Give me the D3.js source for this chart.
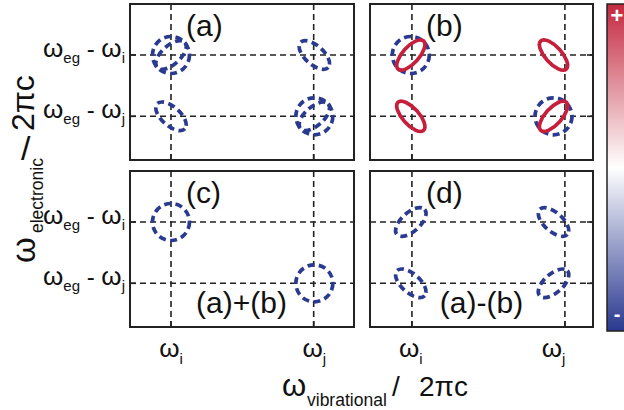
<!DOCTYPE html>
<html>
<head>
<meta charset="utf-8">
<script src="https://cdn.jsdelivr.net/npm/d3@7/dist/d3.min.js"></script>
<style>
  html, body { margin: 0; padding: 0; background: #fff; }
  svg { display: block; font-family: "Liberation Sans", Arial, Helvetica, sans-serif; }
</style>
</head>
<body>
<div id="chart"></div>
<script>
// Panel labels and the combination notes
const panelNames = ["(a)", "(b)", "(c)", "(d)"];
const panelNotes = ["", "", "(a)+(b)", "(a)-(b)"];

// Axis tick labels: [main symbol, subscript]
const vibTickLabels = [["ω", "i"], ["ω", "j"]];
const eleTickLabels = [["ω", "eg", " - ", "ω", "i"], ["ω", "eg", " - ", "ω", "j"]];

// Peak positions (normalised frequency units within each panel)
const vibPositions = [0.183, 0.823];
const elePositions = [0.673, 0.28];

// Dashed guide-line positions along the vibrational axis for the left and right columns
const leftGridVib = [0.183, 0.82];
const rightGridVib = [0.188, 0.874];

// Peaks: [vibrational index, electronic index, shape, sign]
// shape: "ring" = round peak, "diag" = tilted like "/", "anti" = tilted like "\"
const peaksA = [[0, 0, "ring", -1], [0, 0, "diag", -1], [1, 0, "anti", -1],
                [0, 1, "anti", -1], [1, 1, "ring", -1], [1, 1, "diag", -1]];
const peaksB = [[0, 0, "ring", -1], [1, 1, "ring", -1],
                [0, 0, "diag", 1], [1, 0, "anti", 1], [0, 1, "anti", 1], [1, 1, "diag", 1]];
const peaksC = [[0, 0, "ring", -1], [1, 1, "ring", -1]];
const peaksD = [[0, 0, "diag", -1], [1, 0, "anti", -1], [0, 1, "anti", -1], [1, 1, "diag", -1]];
const panelPeaks = [peaksA, peaksB, peaksC, peaksD];

// Colour bar end labels and domain
const colorbarDomain = [-1, 1];
const colorbarLabels = ["+", "-"];

// ---------------------------------------------------------------
const W = 624, H = 410;
const RED = "#c61f3b", BLUE = "#2a3a90";
const colorScale = d3.scaleLinear()
  .domain([colorbarDomain[0], 0, colorbarDomain[1]])
  .range(["#29388f", "#ffffff", "#c3283e"])
  .interpolate(d3.interpolateRgb);

const svg = d3.select("#chart").append("svg")
  .attr("width", W).attr("height", H);

const frames = [
  { x0: 130, x1: 354, y0: 4,   y1: 160, grid: leftGridVib,  side: "left"  },
  { x0: 370, x1: 593, y0: 4,   y1: 160, grid: rightGridVib, side: "right" },
  { x0: 130, x1: 354, y0: 171, y1: 327, grid: leftGridVib,  side: "left"  },
  { x0: 370, x1: 593, y0: 171, y1: 327, grid: rightGridVib, side: "right" }
];

const shapes = {
  ring: { a: 18.5, b: 18.5, angle: 0 },
  diagBlue: { a: 18.7, b: 9.4, angle: 42 },
  diagRed: { a: 19, b: 8.2, angle: 48 }
};

frames.forEach((f, pi) => {
  const x = d3.scaleLinear().domain([0, 1]).range([f.x0, f.x1]);
  const y = d3.scaleLinear().domain([0, 1]).range([f.y1, f.y0]);
  const g = svg.append("g");

  // dashed guide lines
  g.selectAll("line.gv").data(f.grid).join("line")
    .attr("x1", d => x(d)).attr("x2", d => x(d))
    .attr("y1", f.y0).attr("y2", f.y1)
    .attr("stroke", "#222").attr("stroke-width", 1.6)
    .attr("stroke-dasharray", "6,4");
  g.selectAll("line.gh").data(elePositions).join("line")
    .attr("x1", f.x0).attr("x2", f.x1)
    .attr("y1", d => y(d)).attr("y2", d => y(d))
    .attr("stroke", "#222").attr("stroke-width", 1.6)
    .attr("stroke-dasharray", "6,4");

  // inward ticks
  g.selectAll("line.tb").data(f.grid).join("line")
    .attr("x1", d => x(d)).attr("x2", d => x(d))
    .attr("y1", f.y1).attr("y2", f.y1 - 6)
    .attr("stroke", "#222").attr("stroke-width", 1.6);
  const sx = f.side === "left" ? f.x0 : f.x1;
  const sd = f.side === "left" ? 6 : -6;
  g.selectAll("line.ts").data(elePositions).join("line")
    .attr("x1", sx).attr("x2", sx + sd)
    .attr("y1", d => y(d)).attr("y2", d => y(d))
    .attr("stroke", "#222").attr("stroke-width", 1.6);

  // peaks: negative peaks dashed blue, positive peaks solid red (drawn on top)
  const peaks = panelPeaks[pi].slice().sort((p, q) => p[3] - q[3]);
  g.selectAll("ellipse.pk").data(peaks).join("ellipse")
    .each(function (p) {
      const cx = x(vibPositions[p[0]]), cy = y(elePositions[p[1]]);
      let s;
      if (p[2] === "ring") s = shapes.ring;
      else s = p[3] > 0 ? shapes.diagRed : shapes.diagBlue;
      const rot = p[2] === "diag" ? -s.angle : (p[2] === "anti" ? s.angle : 0);
      d3.select(this)
        .attr("cx", 0).attr("cy", 0)
        .attr("rx", s.a).attr("ry", s.b)
        .attr("transform", `translate(${cx},${cy}) rotate(${rot})`)
        .attr("fill", "none")
        .attr("stroke", p[3] > 0 ? RED : BLUE)
        .attr("stroke-width", 3.7)
        .attr("stroke-dasharray", p[3] > 0 ? null : "7,4.4");
    });

  // frame
  g.append("rect")
    .attr("x", f.x0).attr("y", f.y0)
    .attr("width", f.x1 - f.x0).attr("height", f.y1 - f.y0)
    .attr("fill", "none").attr("stroke", "#222").attr("stroke-width", 2);

  // panel letter and note
  g.append("text")
    .attr("x", f.x0 + 56).attr("y", f.y0 + 32)
    .attr("font-size", 30).attr("fill", "#111")
    .text(panelNames[pi]);
  if (panelNotes[pi]) {
    g.append("text")
      .attr("x", f.x0 + 111.5).attr("y", f.y0 + 142)
      .attr("text-anchor", "middle")
      .attr("font-size", 30).attr("fill", "#111")
      .text(panelNotes[pi]);
  }

  // electronic tick labels on the left column
  if (f.side === "left") {
    eleTickLabels.forEach((lab, li) => {
      const t = g.append("text")
        .attr("x", 125).attr("y", y(elePositions[li]) + 2)
        .attr("text-anchor", "end").attr("fill", "#111");
      t.append("tspan").attr("font-size", 26).text(lab[0]);
      t.append("tspan").attr("font-size", 15).attr("dy", 6).text(lab[1]);
      t.append("tspan").attr("font-size", 24).attr("dy", -6).text(lab[2]);
      t.append("tspan").attr("font-size", 26).text(lab[3]);
      t.append("tspan").attr("font-size", 15).attr("dy", 6).text(lab[4]);
    });
  }

  // vibrational tick labels below the lower row
  if (pi >= 2) {
    vibTickLabels.forEach((lab, li) => {
      const t = g.append("text")
        .attr("x", x(vibPositions[li])).attr("y", 357)
        .attr("text-anchor", "middle").attr("fill", "#111");
      t.append("tspan").attr("font-size", 26).text(lab[0]);
      t.append("tspan").attr("font-size", 15).attr("dy", 7).text(lab[1]);
    });
  }
});

// horizontal axis title
const xt = svg.append("g").attr("fill", "#111");
xt.append("text").attr("x", 282).attr("y", 396).attr("font-size", 31).text("ω");
xt.append("text").attr("x", 307).attr("y", 406).attr("font-size", 17.5).text("vibrational");
xt.append("text").attr("x", 392).attr("y", 396).attr("font-size", 28).text("/");
xt.append("text").attr("x", 419).attr("y", 396).attr("font-size", 28).text("2πc");

// vertical axis title, each piece placed along the rotated baseline
const yt = svg.append("g").attr("fill", "#111");
yt.append("text").attr("transform", "translate(35,263) rotate(-90)")
  .attr("font-size", 33).text("ω");
yt.append("text").attr("transform", "translate(43,233) rotate(-90)")
  .attr("font-size", 17.5).text("electronic");
yt.append("text").attr("transform", "translate(34,131) rotate(-90)")
  .attr("font-size", 32).text("2πc");
yt.append("text").attr("x", 21).attr("y", 160).attr("font-size", 34).text("/");

// colour bar
const cb = { x: 607, y0: 4, y1: 331, w: 26 };
const defs = svg.append("defs");
const grad = defs.append("linearGradient").attr("id", "cbar")
  .attr("x1", 0).attr("y1", 1).attr("x2", 0).attr("y2", 0);
d3.range(0, 1.0001, 0.1).forEach(t => {
  const v = colorbarDomain[0] + t * (colorbarDomain[1] - colorbarDomain[0]);
  grad.append("stop").attr("offset", t).attr("stop-color", colorScale(v));
});
const cbY = d3.scaleLinear().domain(colorbarDomain).range([cb.y1, cb.y0]);
svg.append("rect")
  .attr("x", cb.x).attr("y", cbY(colorbarDomain[1]))
  .attr("width", cb.w).attr("height", cbY(colorbarDomain[0]) - cbY(colorbarDomain[1]))
  .attr("fill", "url(#cbar)").attr("stroke", "#222").attr("stroke-width", 1.5);
svg.append("text").attr("x", 617).attr("y", cbY(colorbarDomain[1]) + 19)
  .attr("text-anchor", "middle").attr("font-size", 22).attr("font-weight", "bold")
  .attr("fill", "#fff").text(colorbarLabels[0]);
svg.append("text").attr("x", 617).attr("y", cbY(colorbarDomain[0]) - 10)
  .attr("text-anchor", "middle").attr("font-size", 20).attr("font-weight", "bold")
  .attr("fill", "#fff").text(colorbarLabels[1]);
</script>
</body>
</html>
